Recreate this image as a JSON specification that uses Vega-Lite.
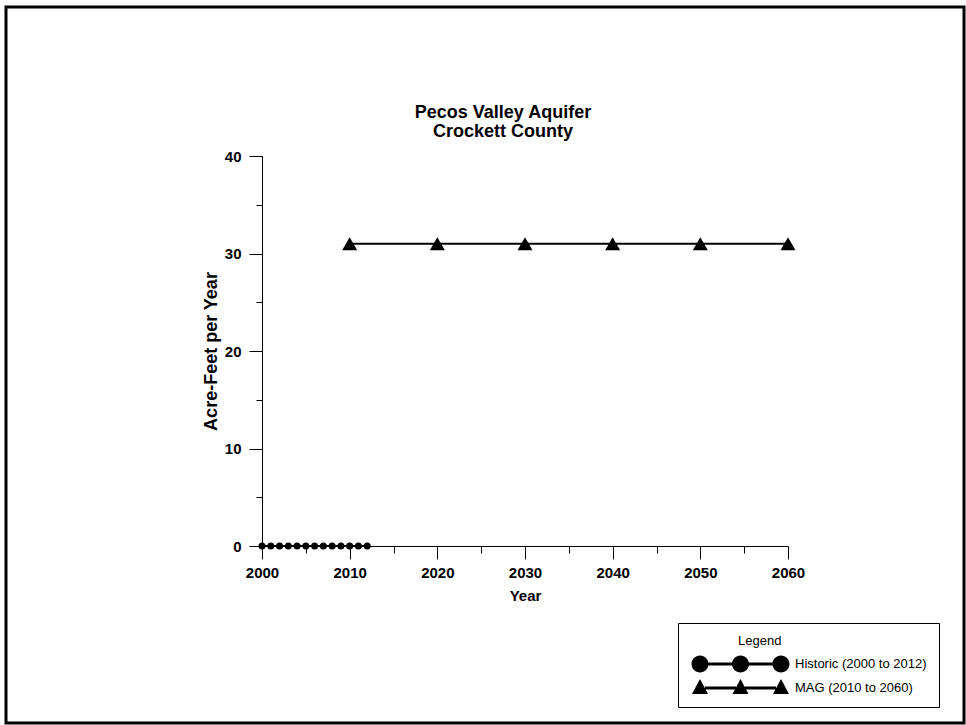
{
  "$schema": "https://vega.github.io/schema/vega-lite/v6.json",
  "autosize": {"type": "none"},
  "width": 958,
  "height": 716,
  "padding": {"left": 6, "top": 7, "right": 2, "bottom": 2},
  "background": "white",
  "config": {
    "view": {"stroke": "black", "strokeWidth": 3, "fill": "white"},
    "font": "Liberation Sans",
    "axis": {"grid": false, "domainColor": "black", "tickColor": "black", "domainWidth": 1, "tickWidth": 1},
    "legend": {"strokeWidth": 1, "symbolOpacity": 1}
  },
  "title": {
    "text": ["Pecos Valley Aquifer", "Crockett County"],
    "font": "Liberation Sans",
    "fontSize": 18,
    "fontWeight": "bold",
    "color": "black",
    "lineHeight": 19,
    "anchor": "middle",
    "dx": 18,
    "offset": -134
  },
  "data": {
    "values": [
      {"series": "Historic (2000 to 2012)", "year": 2000, "value": 0},
      {"series": "Historic (2000 to 2012)", "year": 2001, "value": 0},
      {"series": "Historic (2000 to 2012)", "year": 2002, "value": 0},
      {"series": "Historic (2000 to 2012)", "year": 2003, "value": 0},
      {"series": "Historic (2000 to 2012)", "year": 2004, "value": 0},
      {"series": "Historic (2000 to 2012)", "year": 2005, "value": 0},
      {"series": "Historic (2000 to 2012)", "year": 2006, "value": 0},
      {"series": "Historic (2000 to 2012)", "year": 2007, "value": 0},
      {"series": "Historic (2000 to 2012)", "year": 2008, "value": 0},
      {"series": "Historic (2000 to 2012)", "year": 2009, "value": 0},
      {"series": "Historic (2000 to 2012)", "year": 2010, "value": 0},
      {"series": "Historic (2000 to 2012)", "year": 2011, "value": 0},
      {"series": "Historic (2000 to 2012)", "year": 2012, "value": 0},
      {"series": "MAG (2010 to 2060)", "year": 2010, "value": 31},
      {"series": "MAG (2010 to 2060)", "year": 2020, "value": 31},
      {"series": "MAG (2010 to 2060)", "year": 2030, "value": 31},
      {"series": "MAG (2010 to 2060)", "year": 2040, "value": 31},
      {"series": "MAG (2010 to 2060)", "year": 2050, "value": 31},
      {"series": "MAG (2010 to 2060)", "year": 2060, "value": 31}
    ]
  },
  "encoding": {
    "x": {
      "field": "year",
      "type": "quantitative",
      "scale": {"domain": [2000, 2060], "range": [256, 782], "nice": false, "zero": false},
      "axis": {
        "orient": "bottom",
        "offset": -177,
        "title": "Year",
        "values": [2000, 2005, 2010, 2015, 2020, 2025, 2030, 2035, 2040, 2045, 2050, 2055, 2060],
        "format": "d",
        "labelExpr": "datum.value % 10 === 0 ? datum.label : ''",
        "tickSize": {"condition": {"test": "datum.value % 10 === 0", "value": 13}, "value": 7},
        "labelPadding": 6,
        "labelFlush": false,
        "labelOverlap": false,
        "labelFont": "Liberation Sans",
        "labelFontSize": 15,
        "labelFontWeight": "bold",
        "labelColor": "black",
        "titleFont": "Liberation Sans",
        "titleFontSize": 15,
        "titleFontWeight": "bold",
        "titleColor": "black",
        "titlePadding": 8
      }
    },
    "y": {
      "field": "value",
      "type": "quantitative",
      "scale": {"domain": [0, 40], "range": [539, 149], "nice": false},
      "axis": {
        "orient": "left",
        "offset": -256,
        "title": "Acre-Feet per Year",
        "values": [0, 5, 10, 15, 20, 25, 30, 35, 40],
        "labelExpr": "datum.value % 10 === 0 ? datum.label : ''",
        "tickSize": {"condition": {"test": "datum.value % 10 === 0", "value": 13}, "value": 6},
        "labelPadding": 8,
        "labelOverlap": false,
        "labelFont": "Liberation Sans",
        "labelFontSize": 15,
        "labelFontWeight": "bold",
        "labelColor": "black",
        "titleFont": "Liberation Sans",
        "titleFontSize": 18,
        "titleFontWeight": "bold",
        "titleColor": "black",
        "titlePadding": 4
      }
    }
  },
  "layer": [
    {
      "transform": [{"filter": "datum.series === 'Historic (2000 to 2012)'"}],
      "mark": {"type": "line", "color": "black", "strokeWidth": 2}
    },
    {
      "transform": [{"filter": "datum.series === 'MAG (2010 to 2060)'"}],
      "mark": {"type": "line", "color": "black", "strokeWidth": 2}
    },
    {
      "transform": [{"filter": "datum.series === 'MAG (2010 to 2060)'"}],
      "mark": {"type": "point", "shape": "triangle-up", "filled": true, "color": "black", "opacity": 1, "size": 225}
    },
    {
      "transform": [{"filter": "datum.series === 'Historic (2000 to 2012)'"}],
      "mark": {"type": "point", "shape": "circle", "filled": true, "opacity": 1, "size": 49},
      "encoding": {
        "color": {
          "field": "series",
          "type": "nominal",
          "scale": {"domain": ["Historic (2000 to 2012)", "MAG (2010 to 2060)"], "range": ["black", "black"]},
          "legend": {
            "title": "Legend",
            "orient": "none",
            "legendX": 672,
            "legendY": 616,
            "padding": 12,
            "strokeColor": "black",
            "fillColor": "white",
            "titleFont": "Liberation Sans",
            "titleFontSize": 13,
            "titleFontWeight": "normal",
            "titleColor": "black",
            "titlePadding": 6,
            "labelFont": "Liberation Sans",
            "labelFontSize": 13,
            "labelColor": "black",
            "labelOffset": 85,
            "labelLimit": 300,
            "symbolSize": 400,
            "symbolStrokeWidth": 0,
            "rowPadding": 5,
            "encoding": {
              "title": {"dx": {"value": 48}},
              "symbols": {
                "shape": {"value": {"expr": "datum.value === 'MAG (2010 to 2060)' ? 'M0,-0.9L0.8,0.6L-0.8,0.6Z M4.05,-0.9L4.85,0.6L3.25,0.6Z M8.1,-0.9L8.9,0.6L7.3,0.6Z M0.5,-0.15L3.6,-0.15L3.6,0.15L0.5,0.15Z M4.5,-0.15L7.6,-0.15L7.6,0.15L4.5,0.15Z' : 'M-0.85,0A0.85,0.85,0,1,1,0.85,0A0.85,0.85,0,1,1,-0.85,0Z M3.2,0A0.85,0.85,0,1,1,4.9,0A0.85,0.85,0,1,1,3.2,0Z M7.25,0A0.85,0.85,0,1,1,8.95,0A0.85,0.85,0,1,1,7.25,0Z M0.5,-0.15L3.6,-0.15L3.6,0.15L0.5,0.15Z M4.5,-0.15L7.6,-0.15L7.6,0.15L4.5,0.15Z'"}}
              }
            }
          }
        }
      }
    }
  ]
}
